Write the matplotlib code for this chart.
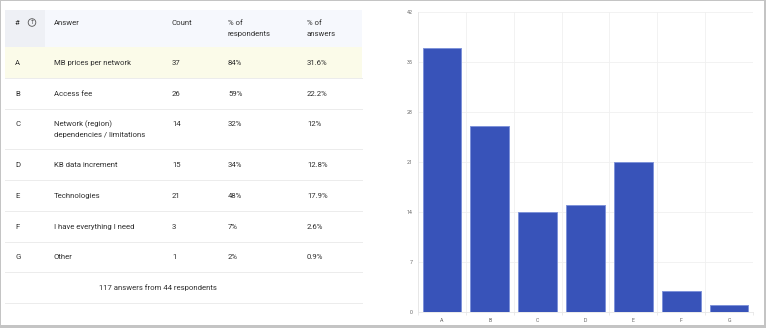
import matplotlib
matplotlib.use("Agg")
import matplotlib.pyplot as plt
from matplotlib.patches import Rectangle, Circle

plt.rcParams['font.family'] = ['Roboto', 'DejaVu Sans']

letters = ["A", "B", "C", "D", "E", "F", "G"]
answers = ["MB prices per network", "Access fee", "Network (region)\ndependencies / limitations",
           "KB data increment", "Technologies", "I have everything I need", "Other"]
counts = [37, 26, 14, 15, 21, 3, 1]
pct_resp = ["84%", "59%", "32%", "34%", "48%", "7%", "2%"]
pct_ans = ["31.6%", "22.2%", "12%", "12.8%", "17.9%", "2.6%", "0.9%"]
headers = ["#", "Answer", "Count", "% of\nrespondents", "% of\nanswers"]
footer = "117 answers from 44 respondents"
yticks = [0, 7, 14, 21, 28, 35, 42]

W, H = 766, 328
fig = plt.figure(figsize=(W / 100, H / 100), dpi=100)
fig.patch.set_facecolor('white')

# full-figure overlay in pixel coords
bg = fig.add_axes([0, 0, 1, 1])
bg.set_xlim(0, W)
bg.set_ylim(H, 0)
bg.axis('off')

# outer gray frame
fc = '#c4c4c4'
bg.add_patch(Rectangle((0, 0), W, 1.2, facecolor=fc, edgecolor='none'))
bg.add_patch(Rectangle((0, 0), 1.3, H, facecolor=fc, edgecolor='none'))
bg.add_patch(Rectangle((W - 2.2, 0), 2.2, H, facecolor=fc, edgecolor='none'))
bg.add_patch(Rectangle((0, H - 2.6), W, 2.6, facecolor=fc, edgecolor='none'))

txt = '#303030'
fs = 5.6
L, R = 5, 362
row_bounds = [47, 78, 109, 149, 180, 211, 242, 272]
col_x = [15, 54, 172, 228, 307]
line_gap = 10.5
base_off = 2.4

def put(x, yc, s, **kw):
    for k, part in enumerate(s.split('\n')):
        bg.text(x, yc + k * line_gap + base_off, part, fontsize=fs, color=txt,
                va='baseline', ha='left', **kw)

# header
bg.add_patch(Rectangle((L, 10), R - L, 37, facecolor='#f6f8fd', edgecolor='none'))
bg.add_patch(Rectangle((L, 10), 40, 37, facecolor='#eef0f5', edgecolor='none'))
for x, h in zip(col_x, headers):
    put(x, 23, h)
# sort icon
bg.add_patch(Circle((32, 22.5), 3.8, fill=False, edgecolor='#555555', lw=0.6))
bg.text(32, 22.6, "↑", fontsize=4.2, color='#444444', ha='center', va='center',
        family=['DejaVu Sans'])

# highlighted first row
bg.add_patch(Rectangle((L, row_bounds[0]), R - L, row_bounds[1] - row_bounds[0],
                       facecolor='#fbfbe9', edgecolor='none'))

for i in range(len(letters)):
    top, bot = row_bounds[i], row_bounds[i + 1]
    vals = [letters[i], answers[i], str(counts[i]), pct_resp[i], pct_ans[i]]
    multi = '\n' in answers[i]
    yc = top + 15 if multi else (top + bot) / 2
    for x, v in zip(col_x, vals):
        put(x, yc, v)
    bg.plot([L, R], [bot, bot], color='#ececec', lw=0.7)
bg.plot([L, R], [303, 303], color='#ececec', lw=0.7)
bg.text(158, 287.5 + base_off, footer, fontsize=fs, color=txt, ha='center', va='baseline')

# bar chart
ax = fig.add_axes([418 / W, (H - 312) / H, (753 - 418) / W, (312 - 12) / H])
x = list(range(len(letters)))
ax.bar(x, counts, width=0.81, color='#3853b9', edgecolor='#7f93d9', linewidth=0.7, zorder=3)
ax.set_xlim(-0.5, len(letters) - 0.5)
ax.set_ylim(0, 42)
ax.set_yticks(yticks)
ax.set_yticklabels([str(t) for t in yticks], fontsize=3.8, color='#666666')
ax.set_xticks(x)
ax.set_xticklabels(letters, fontsize=3.8, color='#666666')
ax.tick_params(axis='both', length=0, pad=4)
ax.set_xticks([k - 0.5 for k in range(len(letters) + 1)], minor=True)
ax.tick_params(axis='x', which='minor', length=2.5, color='#e6e6e6', width=0.6)
ax.grid(True, which='major', axis='y', color='#f0f0f0', lw=0.6, zorder=0)
ax.grid(True, which='minor', axis='x', color='#f0f0f0', lw=0.6, zorder=0)
for s in ['top', 'right']:
    ax.spines[s].set_visible(False)
for s in ['left', 'bottom']:
    ax.spines[s].set_color('#e6e6e6')
    ax.spines[s].set_linewidth(0.6)
ax.set_facecolor('none')

fig.savefig('out.png', dpi=100)
